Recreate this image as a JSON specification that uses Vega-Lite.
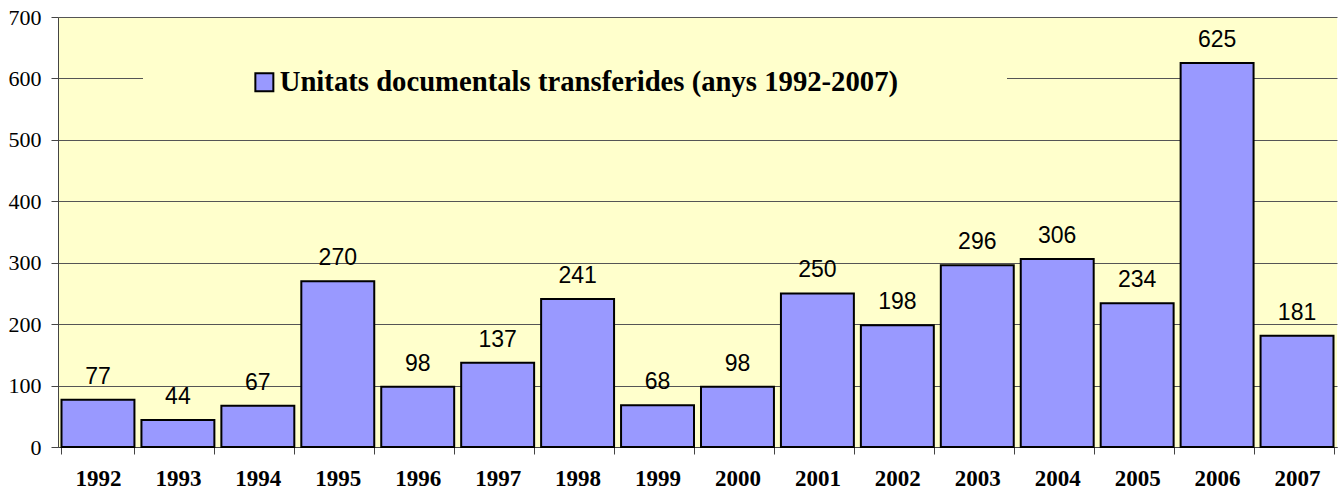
{
  "$schema": "https://vega.github.io/schema/vega-lite/v6.json",
  "width": 1279,
  "height": 430,
  "autosize": {"type": "none"},
  "padding": {"left": 58, "top": 17, "right": 7, "bottom": 44},
  "background": "white",
  "config": {"view": {"fill": "#FFFFCC", "stroke": null}},
  "data": {
    "values": [
      {"year": "1992", "value": 77, "series": "Unitats documentals transferides (anys 1992-2007)"},
      {"year": "1993", "value": 44, "series": "Unitats documentals transferides (anys 1992-2007)"},
      {"year": "1994", "value": 67, "series": "Unitats documentals transferides (anys 1992-2007)"},
      {"year": "1995", "value": 270, "series": "Unitats documentals transferides (anys 1992-2007)"},
      {"year": "1996", "value": 98, "series": "Unitats documentals transferides (anys 1992-2007)"},
      {"year": "1997", "value": 137, "series": "Unitats documentals transferides (anys 1992-2007)"},
      {"year": "1998", "value": 241, "series": "Unitats documentals transferides (anys 1992-2007)"},
      {"year": "1999", "value": 68, "series": "Unitats documentals transferides (anys 1992-2007)"},
      {"year": "2000", "value": 98, "series": "Unitats documentals transferides (anys 1992-2007)"},
      {"year": "2001", "value": 250, "series": "Unitats documentals transferides (anys 1992-2007)"},
      {"year": "2002", "value": 198, "series": "Unitats documentals transferides (anys 1992-2007)"},
      {"year": "2003", "value": 296, "series": "Unitats documentals transferides (anys 1992-2007)"},
      {"year": "2004", "value": 306, "series": "Unitats documentals transferides (anys 1992-2007)"},
      {"year": "2005", "value": 234, "series": "Unitats documentals transferides (anys 1992-2007)"},
      {"year": "2006", "value": 625, "series": "Unitats documentals transferides (anys 1992-2007)"},
      {"year": "2007", "value": 181, "series": "Unitats documentals transferides (anys 1992-2007)"}
    ]
  },
  "encoding": {
    "x": {
      "field": "year",
      "type": "ordinal",
      "scale": {"paddingInner": 0.0875, "paddingOuter": 0.04375},
      "axis": {
        "title": null,
        "labelAngle": 0,
        "labelFont": "Liberation Serif",
        "labelFontWeight": "bold",
        "labelFontSize": 23,
        "labelColor": "black",
        "labelPadding": 13,
        "tickBand": "extent",
        "tickSize": 7,
        "tickColor": "#444",
        "domainColor": "#444",
        "domainWidth": 1,
        "grid": false
      }
    }
  },
  "layer": [
    {
      "mark": {"type": "bar", "stroke": "black", "strokeWidth": 2},
      "encoding": {
        "y": {
          "field": "value",
          "type": "quantitative",
          "scale": {"domain": [0, 700], "nice": false},
          "axis": {
            "title": null,
            "values": [0, 100, 200, 300, 400, 500, 600, 700],
            "labelFont": "Liberation Serif",
            "labelFontSize": 22,
            "labelColor": "black",
            "labelPadding": 10,
            "tickSize": 7,
            "tickColor": "#444",
            "domainColor": "#444",
            "grid": true,
            "gridColor": "#555",
            "gridWidth": 1
          }
        },
        "color": {
          "field": "series",
          "type": "nominal",
          "scale": {"range": ["#9999FF"]},
          "legend": {
            "title": null,
            "orient": "none",
            "legendX": 85,
            "legendY": 41,
            "padding": 10,
            "fillColor": "#FFFFCC",
            "symbolType": "square",
            "symbolSize": 324,
            "symbolStrokeColor": "black",
            "symbolStrokeWidth": 2,
            "symbolOpacity": 1,
            "symbolOffset": 97,
            "labelOffset": 1,
            "labelFont": "Liberation Serif",
            "labelFontWeight": "bold",
            "labelFontSize": 28.7,
            "labelColor": "black",
            "labelLimit": 0,
            "labelExpr": "datum.label + '\u00a0\u00a0\u2800\u2800\u2800\u2800'"
          }
        }
      }
    },
    {
      "mark": {"type": "text", "dy": -16, "baseline": "alphabetic", "font": "Liberation Sans", "fontSize": 23, "color": "black"},
      "encoding": {
        "y": {"field": "value", "type": "quantitative"},
        "text": {"field": "value", "type": "quantitative"}
      }
    }
  ]
}
